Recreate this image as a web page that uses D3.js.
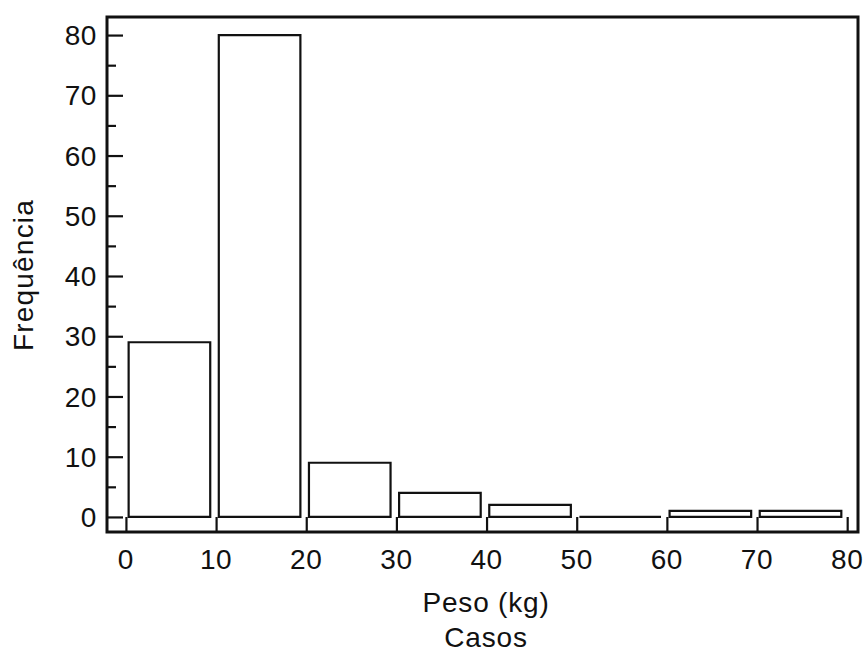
<!DOCTYPE html>
<html>
<head>
<meta charset="utf-8">
<script src="https://cdn.jsdelivr.net/npm/d3@7"></script>
<style>
  body { margin: 0; background: #fff; }
  svg { display: block; }
  text { font-family: "Liberation Sans", Arial, sans-serif; fill: #111; }
</style>
</head>
<body>
<svg id="chart" width="868" height="655"></svg>
<script>
// Data
const binStarts = [0, 10, 20, 30, 40, 50, 60, 70];
const binWidth = 10;
const counts = [29, 80, 9, 4, 2, 0, 1, 1];
const xTicks = [0, 10, 20, 30, 40, 50, 60, 70, 80];
const yTicks = [0, 10, 20, 30, 40, 50, 60, 70, 80];
const yMinorTicks = [5, 15, 25, 35, 45, 55, 65, 75];
const xTitle = "Peso (kg)";
const xSubTitle = "Casos";
const yTitle = "Frequência";

const svg = d3.select("#chart");
const pLeft = 107, pRight = 858, pTop = 17, pBottom = 532;

const x = d3.scaleLinear().domain([-2.1, 81.2]).range([pLeft, pRight]);
const y = d3.scaleLinear().domain([-2.5, 83]).range([pBottom, pTop]);

const bins = binStarts.map((s, i) => ({ x0: s, x1: s + binWidth, n: counts[i] }));

// Bars (as paths so zero-height bins still show a line)
svg.append("g").selectAll("path").data(bins).join("path")
  .attr("d", d => {
    const x0 = x(d.x0 + 0.3), x1 = x(d.x1 - 0.65);
    const y0 = y(0), y1 = y(d.n);
    return `M${x0},${y0}H${x1}V${y1}H${x0}Z`;
  })
  .attr("fill", "#fff")
  .attr("stroke", "#111")
  .attr("stroke-width", 2.2);

// Y axis (ticks drawn inward from left frame)
const yAxis = d3.axisRight(y).tickValues(yTicks).tickSize(16).tickFormat("");
const gy = svg.append("g").attr("transform", `translate(${pLeft},0)`).call(yAxis);
gy.select(".domain").remove();
gy.selectAll("line").attr("stroke", "#111").attr("stroke-width", 2.2);

const yAxisMinor = d3.axisRight(y).tickValues(yMinorTicks).tickSize(9).tickFormat("");
const gym = svg.append("g").attr("transform", `translate(${pLeft},0)`).call(yAxisMinor);
gym.select(".domain").remove();
gym.selectAll("line").attr("stroke", "#111").attr("stroke-width", 2.2);

// Y labels
svg.append("g").selectAll("text").data(yTicks).join("text")
  .attr("x", 97).attr("y", d => y(d))
  .attr("dy", "0.36em")
  .attr("text-anchor", "end")
  .attr("font-size", 28)
  .attr("letter-spacing", 0.6)
  .text(d => d);

// X axis (ticks inward from bottom frame)
const xAxis = d3.axisTop(x).tickValues(xTicks).tickSize(15).tickFormat("");
const gx = svg.append("g").attr("transform", `translate(0,${pBottom})`).call(xAxis);
gx.select(".domain").remove();
gx.selectAll("line").attr("stroke", "#111").attr("stroke-width", 2.2);

svg.append("g").selectAll("text").data(xTicks).join("text")
  .attr("x", d => x(d)).attr("y", 569)
  .attr("text-anchor", "middle")
  .attr("font-size", 28)
  .attr("letter-spacing", 0.6)
  .text(d => d);

// Frame
svg.append("rect")
  .attr("x", pLeft).attr("y", pTop)
  .attr("width", pRight - pLeft).attr("height", pBottom - pTop)
  .attr("fill", "none").attr("stroke", "#111").attr("stroke-width", 3);

// Titles
svg.append("text").attr("x", 486).attr("y", 612)
  .attr("text-anchor", "middle").attr("font-size", 28).attr("letter-spacing", 0.8).text(xTitle);
svg.append("text").attr("x", 486).attr("y", 647)
  .attr("text-anchor", "middle").attr("font-size", 28).attr("letter-spacing", 0.8).text(xSubTitle);
svg.append("text")
  .attr("transform", `translate(33,275) rotate(-90)`)
  .attr("text-anchor", "middle").attr("font-size", 28).attr("letter-spacing", 1.2).text(yTitle);
</script>
</body>
</html>
